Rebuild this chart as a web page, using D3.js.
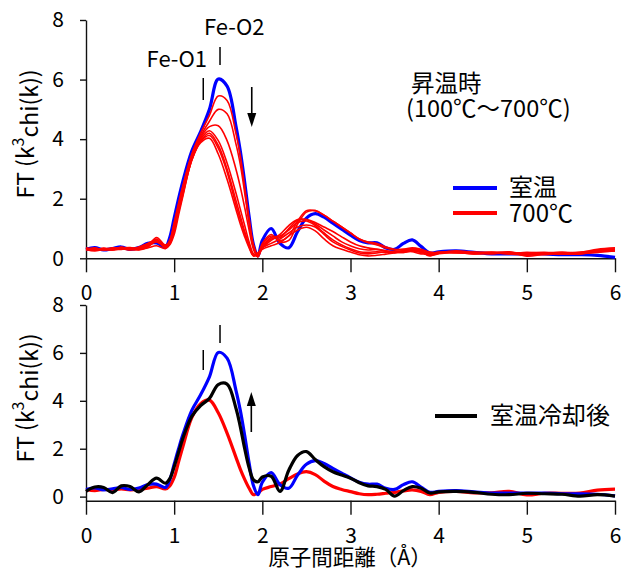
<!DOCTYPE html>
<html><head><meta charset="utf-8">
<script src="https://cdn.jsdelivr.net/npm/d3@7"></script>
<style>
body{margin:0;background:#fff}
svg{display:block}
text{font-family:"Noto Sans CJK JP","Liberation Sans",sans-serif;fill:#000}
</style>
</head><body>
<svg id="c" width="621" height="572"></svg>
<script>
// r grid (Å)
const R = [0,0.1,0.2,0.3,0.4,0.5,0.6,0.7,0.8,0.9,
  0.95,1.0,1.05,1.1,
  1.2,1.3,1.4,1.5,1.6,1.7,
  1.75,1.8,1.85,1.9,1.95,2.0,
  2.1,2.2,2.3,2.4,2.5,2.6,2.7,2.8,2.9,3.0,
  3.1,3.2,3.3,3.4,3.5,3.6,3.7,3.8,3.9,4.0,
  4.2,4.4,4.6,4.8,5.0,5.2,5.4,5.6,5.8,6.0];

// 室温 (blue)
const roomTemp = [0.3,0.36,0.28,0.33,0.38,0.3,0.36,0.5,0.52,0.38,
  0.7,1.35,2.0,2.6,
  3.6,4.25,5.0,6.02,5.78,4.45,
  3.6,2.55,1.4,0.45,0.08,0.6,
  1.0,0.5,0.35,0.9,1.35,1.5,1.38,1.18,0.98,0.78,
  0.6,0.52,0.52,0.35,0.3,0.5,0.62,0.4,0.18,0.22,
  0.25,0.2,0.15,0.15,0.15,0.15,0.12,0.12,0.1,0.03];

// 昇温時 100..700℃ (red)
const heat100 = [0.3,0.33,0.28,0.33,0.36,0.3,0.38,0.5,0.6,0.4,
  0.6,1.2,1.85,2.45,
  3.5,4.2,4.8,5.45,5.3,4.2,
  3.45,2.4,1.35,0.45,0.1,0.5,
  0.8,0.55,0.6,1.15,1.55,1.6,1.45,1.25,1.05,0.85,
  0.65,0.55,0.5,0.38,0.3,0.3,0.35,0.3,0.2,0.2,
  0.25,0.2,0.18,0.2,0.15,0.18,0.15,0.15,0.2,0.25];
const heat200 = [0.32,0.28,0.34,0.3,0.35,0.33,0.35,0.48,0.62,0.42,
  0.6,1.15,1.8,2.4,
  3.45,4.1,4.6,5.0,4.85,3.85,
  3.15,2.2,1.2,0.4,0.05,0.45,
  0.75,0.6,0.75,1.25,1.6,1.6,1.45,1.25,1.05,0.85,
  0.65,0.52,0.45,0.35,0.28,0.3,0.32,0.28,0.2,0.18,
  0.22,0.2,0.2,0.18,0.18,0.2,0.17,0.2,0.25,0.3];
const heat300 = [0.28,0.32,0.3,0.35,0.32,0.35,0.32,0.45,0.65,0.4,
  0.55,1.05,1.7,2.3,
  3.4,4.05,4.42,4.45,3.95,3.0,
  2.4,1.7,0.95,0.3,0.05,0.35,
  0.65,0.7,1.0,1.28,1.3,1.2,1.05,0.9,0.72,0.55,
  0.42,0.35,0.3,0.25,0.2,0.25,0.3,0.25,0.15,0.2,
  0.2,0.18,0.2,0.15,0.2,0.17,0.2,0.18,0.22,0.28];
const heat400 = [0.33,0.3,0.32,0.28,0.38,0.3,0.36,0.42,0.7,0.45,
  0.55,1.0,1.65,2.25,
  3.35,4.0,4.28,3.95,3.2,2.2,
  1.65,1.1,0.55,0.15,0.1,0.35,
  0.6,0.8,1.1,1.3,1.3,1.15,0.95,0.75,0.55,0.42,
  0.32,0.28,0.3,0.25,0.2,0.2,0.25,0.2,0.12,0.18,
  0.2,0.15,0.2,0.18,0.12,0.18,0.2,0.15,0.25,0.3];
const heat500 = [0.3,0.35,0.28,0.32,0.34,0.36,0.3,0.4,0.55,0.38,
  0.5,0.95,1.6,2.2,
  3.3,3.95,4.2,3.8,3.0,1.95,
  1.42,0.9,0.45,0.1,0.12,0.4,
  0.7,0.75,0.95,1.2,1.25,1.1,0.85,0.62,0.45,0.32,
  0.22,0.2,0.22,0.2,0.22,0.25,0.22,0.15,0.15,0.2,
  0.18,0.2,0.15,0.2,0.15,0.12,0.18,0.2,0.3,0.35];
const heat600 = [0.35,0.3,0.33,0.3,0.3,0.33,0.28,0.38,0.6,0.35,
  0.48,0.9,1.55,2.15,
  3.3,3.92,4.12,3.7,2.9,1.8,
  1.3,0.82,0.4,0.08,0.18,0.35,
  0.5,0.65,0.85,1.05,1.12,1.05,0.8,0.55,0.4,0.28,
  0.18,0.15,0.18,0.22,0.2,0.2,0.25,0.2,0.1,0.15,
  0.2,0.15,0.18,0.15,0.1,0.15,0.15,0.18,0.22,0.25];
const heat700 = [0.3,0.25,0.3,0.28,0.32,0.28,0.3,0.35,0.42,0.32,
  0.45,0.8,1.45,2.1,
  3.3,3.88,4.03,3.5,2.65,1.65,
  1.15,0.72,0.35,0.08,0.15,0.3,
  0.42,0.53,0.75,0.95,1.04,0.92,0.65,0.42,0.3,0.21,
  0.12,0.08,0.1,0.14,0.18,0.24,0.28,0.22,0.08,0.18,
  0.22,0.16,0.16,0.22,0.07,0.14,0.14,0.15,0.27,0.31];

// 室温冷却後 (black)
const cooled = [0.22,0.4,0.38,0.17,0.45,0.42,0.2,0.5,0.77,0.56,
  0.75,1.25,1.85,2.45,
  3.35,3.8,4.1,4.68,4.7,3.7,
  2.92,2.0,1.2,0.7,0.62,0.82,
  0.85,0.22,1.1,1.72,1.88,1.55,1.25,1.04,0.9,0.77,
  0.58,0.45,0.42,0.3,0.02,0.25,0.42,0.35,0.15,0.2,
  0.22,0.18,0.1,0.08,0.14,0.12,0.1,0.02,0.08,0.02];

const heatingSeries = [heat100,heat200,heat300,heat400,heat500,heat600,heat700];
const xTicks = [0,1,2,3,4,5,6];
const yTicks = [0,2,4,6,8];
const legendTop = ["室温","700℃"];
const legendBottom = ["室温冷却後"];
const noteLines = ["昇温時","(100℃～700℃)"];

const svg = d3.select("#c");
const x = d3.scaleLinear().domain([0,6]).range([86,615]);
const yTop = d3.scaleLinear().domain([0,8]).range([258.3,20]);
const yBot = d3.scaleLinear().domain([-0.17,8]).range([500.7,305]);

function drawAxes(y, yAxisAtX, xAxisY){
  const gx = svg.append("g").attr("transform",`translate(0,${xAxisY})`)
    .call(d3.axisBottom(x).tickValues(xTicks).tickSize(14).tickSizeOuter(0).tickPadding(13).tickFormat(d3.format("d")));
  const gy = svg.append("g").attr("transform",`translate(${yAxisAtX},0)`)
    .call(d3.axisLeft(y).tickValues(yTicks).tickSize(6).tickSizeOuter(0).tickPadding(16).tickFormat(d3.format("d")));
  [gx,gy].forEach(g=>{
    g.selectAll("path,line").attr("stroke","#111").attr("stroke-width",1.4);
    g.selectAll("text").style("font-size","21px").attr("fill","#000");
  });
}

function lineFor(y){
  return d3.line().x((d,i)=>x(R[i])).y(d=>y(d)).curve(d3.curveCatmullRom.alpha(0.5));
}

// ---- top panel
drawAxes(yTop, 86, 258.3);
const lt = lineFor(yTop);
svg.append("path").attr("d",lt(roomTemp)).attr("fill","none").attr("stroke","#0000ff").attr("stroke-width",3.2);
heatingSeries.forEach(s=>{
  svg.append("path").attr("d",lt(s)).attr("fill","none").attr("stroke","#ff0000").attr("stroke-width",1.6);
});

// ---- bottom panel
drawAxes(yBot, 86, 500.7);
const lb = lineFor(yBot);
svg.append("path").attr("d",lb(heat700)).attr("fill","none").attr("stroke","#ff0000").attr("stroke-width",3.2);
svg.append("path").attr("d",lb(roomTemp)).attr("fill","none").attr("stroke","#0000ff").attr("stroke-width",3.2);
svg.append("path").attr("d",lb(cooled)).attr("fill","none").attr("stroke","#000").attr("stroke-width",3.2);

// ---- axis titles
function yTitle(cy){
  const t = svg.append("text").attr("transform",`translate(34,${cy}) rotate(-90)`)
    .attr("text-anchor","middle").style("font-size","23px");
  t.append("tspan").text("FT (k");
  t.append("tspan").text("3").attr("dy","-0.6em").style("font-size","16px");
  t.append("tspan").text("chi(k))").attr("dy","0.6em");
}
yTitle(134);
yTitle(398);
svg.append("text").attr("x",350).attr("y",565).
  attr("text-anchor","middle").style("font-size","21.5px").text("原子間距離（Å）");

// ---- annotations
function tick(xp,y1,y2){
  svg.append("line").attr("x1",xp).attr("x2",xp).attr("y1",y1).attr("y2",y2)
    .attr("stroke","#000").attr("stroke-width",1.5);
}
function arrow(xp,yTail,yTip){
  const dir = yTip>yTail?1:-1;
  svg.append("line").attr("x1",xp).attr("x2",xp).attr("y1",yTail).attr("y2",yTip-dir*10)
    .attr("stroke","#000").attr("stroke-width",1.6);
  svg.append("path").attr("d",`M${xp},${yTip} L${xp-4.5},${yTip-dir*14} L${xp+4.5},${yTip-dir*14} Z`).attr("fill","#000");
}
tick(x(1.52),47,65); tick(x(1.33),78,100);
tick(x(1.52),325,343); tick(x(1.33),350,370);
arrow(x(1.88),87,127);
arrow(x(1.875),432,392);

svg.append("text").attr("x",207).attr("y",57).attr("dominant-baseline","central").attr("text-anchor","end")
  .style("font-size","22px").text("Fe-O1");
svg.append("text").attr("x",204).attr("y",25).attr("dominant-baseline","central")
  .style("font-size","22px").text("Fe-O2");

// two-line note as one text block
const note = svg.append("text").style("font-size","23.5px");
note.append("tspan").attr("x",411).attr("y",92).text(noteLines[0]);
note.append("tspan").attr("x",406).attr("y",117).text(noteLines[1]);

// legends
function legendLine(x1,x2,yy,color){
  svg.append("line").attr("x1",x1).attr("x2",x2).attr("y1",yy).attr("y2",yy)
    .attr("stroke",color).attr("stroke-width",4);
}
legendLine(453,497,188,"#0000ff");
legendLine(453,497,213,"#ff0000");
const lg = svg.append("text").style("font-size","24px");
lg.append("tspan").attr("x",509).attr("y",196).text(legendTop[0]);
lg.append("tspan").attr("x",509).attr("y",221.5).text(legendTop[1]);

legendLine(435,477,416,"#000");
svg.append("text").attr("x",490).attr("y",424).style("font-size","24px").text(legendBottom[0]);
</script>
</body></html>
